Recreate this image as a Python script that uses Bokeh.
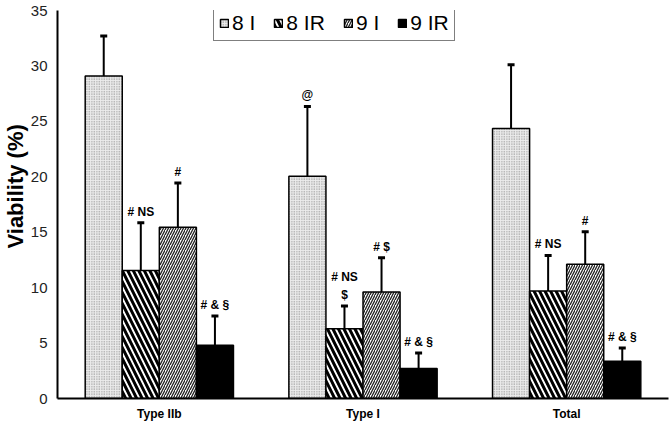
from bokeh.plotting import figure
from bokeh.models import ColumnDataSource, Whisker, TeeHead, FixedTicker, Legend, LegendItem, Range1d, Title
from bokeh.core.properties import value
from bokeh.embed import file_html
from bokeh.resources import INLINE

groups = ["Type IIb", "Type I", "Total"]
series = ["8 I", "8 IR", "9 I", "9 IR"]
vals = {
    "8 I":  [29.1, 20.05, 24.35],
    "8 IR": [11.55, 6.3, 9.7],
    "9 I":  [15.45, 9.6, 12.1],
    "9 IR": [4.8, 2.7, 3.35],
}
sds = {
    "8 I":  [3.6, 6.3, 5.75],
    "8 IR": [4.3, 2.05, 3.2],
    "9 I":  [4.0, 3.1, 2.95],
    "9 IR": [2.65, 1.4, 1.2],
}
notes = {
    "8 I":  ["", "@", ""],
    "8 IR": ["# NS", "# NS\n$", "# NS"],
    "9 I":  ["#", "# $", "#"],
    "9 IR": ["# & §", "# & §", "# & §"],
}
yticks = [0, 5, 10, 15, 20, 25, 30, 35]
y_title = "Viability (%)"

FONT = "Liberation Sans"
W = 0.182
offsets = [-1.5 * W, -0.5 * W, 0.5 * W, 1.5 * W]
styles = {
    "8 I":  dict(fill_color="#ececec", hatch_pattern="dot", hatch_color="#808080", hatch_scale=2.5, hatch_weight=1),
    "8 IR": dict(fill_color="white", hatch_pattern="left_diagonal_line", hatch_color="black", hatch_scale=11, hatch_weight=3),
    "9 I":  dict(fill_color="white", hatch_pattern="right_diagonal_line", hatch_color="#222222", hatch_scale=5, hatch_weight=1.3),
    "9 IR": dict(fill_color="black"),
}

p = figure(width=671, height=428, output_backend="svg", toolbar_location=None,
           x_range=Range1d(-0.5, 2.5), y_range=Range1d(0, 35),
           min_border_left=57, min_border_right=3, min_border_top=10, min_border_bottom=30)
p.outline_line_color = None
p.grid.visible = False

items = []
for j, s in enumerate(series):
    xs = [i + offsets[j] for i in range(len(groups))]
    src = ColumnDataSource(dict(x=xs, top=vals[s],
                                up=[v + e for v, e in zip(vals[s], sds[s])],
                                note=notes[s]))
    r = p.vbar(x="x", top="top", width=W, bottom=0, source=src,
               line_color="black", line_width=1.5, **styles[s])
    items.append(LegendItem(label=s, renderers=[r]))
    wk = Whisker(base="x", lower="top", upper="up", source=src, dimension="height",
                 line_color="black", line_width=2,
                 upper_head=TeeHead(size=7, line_width=3, line_color="black"), lower_head=None)
    p.add_layout(wk)
    p.text(x="x", y="up", text="note", source=src, text_align="center", text_baseline="bottom",
           y_offset=-4, text_font=value(FONT), text_font_size="12px", text_font_style="bold",
           text_color="black", text_line_height=1.3)

leg = Legend(items=items, orientation="horizontal", location=(156, 357),
             label_text_font=FONT, label_text_font_size="21px", label_text_color="black",
             glyph_width=10, glyph_height=10, label_standoff=3, spacing=18,
             padding=5, margin=0, border_line_color="black", border_line_width=1,
             label_height=18)
p.add_layout(leg, "center")

p.add_layout(Title(text=y_title, align="left", offset=150, standoff=0,
                   text_font=FONT, text_font_size="22px", text_font_style="bold",
                   text_color="black"), "left")

p.yaxis.ticker = FixedTicker(ticks=yticks)
p.yaxis.major_label_text_font = FONT
p.yaxis.major_label_text_font_size = "15px"
p.yaxis.major_label_text_color = "#222222"
p.yaxis.major_label_standoff = 10

p.xaxis.ticker = FixedTicker(ticks=[0, 1, 2])
p.xaxis.major_label_overrides = {i: g for i, g in enumerate(groups)}
p.xaxis.major_label_text_font = FONT
p.xaxis.major_label_text_font_size = "12px"
p.xaxis.major_label_text_font_style = "bold"
p.xaxis.major_label_text_color = "black"
p.xaxis.major_label_standoff = 8

for ax in (p.xaxis, p.yaxis):
    ax.axis_line_width = 2
    ax.axis_line_color = "black"
    ax.major_tick_in = 0
    ax.major_tick_out = 0
    ax.minor_tick_in = 0
    ax.minor_tick_out = 0

open("out.html", "w").write(file_html(p, INLINE))
